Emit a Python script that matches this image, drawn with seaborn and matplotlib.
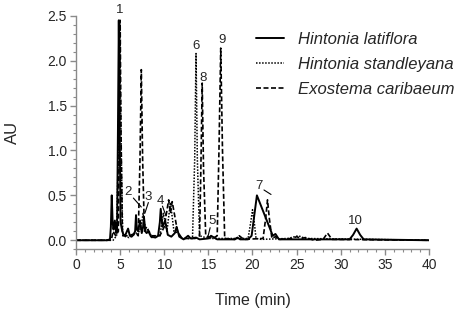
import matplotlib
matplotlib.use("Agg")
import matplotlib.pyplot as plt
import seaborn as sns
import pandas as pd
from matplotlib.ticker import MultipleLocator

# ---- data (time in min, absorbance AU) ----
lat_t = [0, 3.5, 3.85, 3.95, 4.05, 4.15, 4.25, 4.4, 4.55, 4.65, 4.75, 4.85, 4.95, 5.05, 5.2, 5.4,
         5.6, 5.9, 6.1, 6.3, 6.5, 6.7, 6.8, 6.9, 7.05, 7.25, 7.45, 7.6, 7.7, 7.85, 8.0, 8.2, 8.5,
         9.0, 9.3, 9.5, 9.6, 9.8, 10.1, 10.4, 10.8, 11.2, 11.4, 11.7, 12.2, 12.7, 13.0, 13.6,
         14.0, 15.0, 15.3, 16.0, 18.0, 18.3, 18.6, 19.5, 19.9, 20.5, 22.3, 22.6, 23.0, 31.0,
         31.4, 31.8, 32.2, 32.6, 40]
lat_au = [0.0, 0.0, 0.01, 0.15, 0.5, 0.2, 0.12, 0.22, 0.08, 0.1, 1.2, 2.45, 1.2, 0.2, 0.12, 0.05,
          0.06, 0.13, 0.05, 0.04, 0.06, 0.1, 0.28, 0.12, 0.1, 0.22, 0.08, 0.15, 0.26, 0.1, 0.08, 0.1, 0.04,
          0.03, 0.05, 0.2, 0.35, 0.15, 0.22, 0.06, 0.04, 0.08, 0.15, 0.04, 0.01, 0.05, 0.02, 0.03,
          0.01, 0.02, 0.05, 0.01, 0.01, 0.03, 0.01, 0.01, 0.05, 0.5, 0.05, 0.07, 0.01, 0.01,
          0.06, 0.13, 0.06, 0.01, 0.0]

std_t = [0, 4.2, 4.6, 4.75, 4.95, 5.15, 5.3, 6.0, 7.2, 7.45, 7.6, 7.75, 7.9, 8.2, 8.6, 9.5,
         9.9, 10.3, 10.7, 11.1, 11.6, 12.0, 13.2, 13.45, 13.6, 13.75, 14.0, 15.0, 19.5, 19.8,
         20.0, 20.2, 20.4, 21.0, 24.0, 25.2, 26.0, 40]
std_au = [0.0, 0.0, 0.05, 0.8, 2.2, 0.8, 0.05, 0.03, 0.1, 0.2, 0.3, 0.2, 0.1, 0.12, 0.03, 0.05,
          0.3, 0.1, 0.42, 0.1, 0.08, 0.02, 0.02, 0.9, 2.08, 0.9, 0.05, 0.02, 0.02, 0.2,
          0.34, 0.2, 0.02, 0.01, 0.02, 0.05, 0.02, 0.0]

exo_t = [0, 4.0, 4.2, 4.5, 4.8, 4.9, 5.0, 5.1, 5.25, 5.5, 6.0, 6.8, 7.05, 7.25, 7.4, 7.55,
         7.75, 8.0, 8.5, 9.5, 10.0, 10.5, 10.7, 10.9, 11.5, 12.0, 13.5, 14.0, 14.15, 14.3,
         14.45, 14.7, 15.5, 16.0, 16.2, 16.4, 16.6, 16.85, 18.0, 18.5, 19.0, 21.2, 21.5, 21.7,
         21.9, 22.2, 22.6, 23.0, 24.5, 25.0, 25.5, 26.0, 27.0, 28.0, 28.5, 29.0, 40]
exo_au = [0.0, 0.0, 0.1, 0.05, 0.1, 1.2, 2.45, 1.2, 0.1, 0.05, 0.05, 0.08, 0.05, 0.9, 1.9, 0.9,
          0.1, 0.15, 0.05, 0.05, 0.15, 0.45, 0.3, 0.43, 0.1, 0.02, 0.02, 0.05, 0.8, 1.75,
          0.8, 0.05, 0.02, 0.05, 1.0, 2.14, 1.0, 0.02, 0.01, 0.05, 0.01, 0.02, 0.25, 0.45,
          0.25, 0.02, 0.04, 0.01, 0.02, 0.04, 0.02, 0.03, 0.0, 0.01, 0.08, 0.01, 0.0]

series_names = ["Hintonia latiflora", "Hintonia standleyana", "Exostema caribaeum"]

# peak labels: (text, x, y) in data coords
peak_labels = [("1", 4.9, 2.57), ("2", 5.9, 0.54), ("3", 8.2, 0.48), ("4", 9.55, 0.44),
               ("5", 15.4, 0.21), ("6", 13.6, 2.16), ("7", 20.7, 0.6), ("8", 14.4, 1.81),
               ("9", 16.6, 2.23), ("10", 31.7, 0.21)]
# leader lines: (x0, y0, x1, y1)
leaders = [(6.5, 0.47, 7.4, 0.37), (8.2, 0.42, 7.8, 0.3), (9.8, 0.38, 10.2, 0.27),
           (15.2, 0.14, 14.9, 0.02), (21.3, 0.56, 22.1, 0.51)]

df = pd.concat([
    pd.DataFrame({"Time": lat_t, "AU": lat_au, "Species": series_names[0]}),
    pd.DataFrame({"Time": std_t, "AU": std_au, "Species": series_names[1]}),
    pd.DataFrame({"Time": exo_t, "AU": exo_au, "Species": series_names[2]}),
])

sns.set_style("ticks")
plt.rcParams["font.family"] = ["Liberation Sans", "DejaVu Sans"]

fig = plt.figure(figsize=(4.59, 3.10), dpi=100)
ax = fig.add_axes([0.1656, 0.196, 0.769, 0.753])

styles = {series_names[0]: dict(linestyle="-", linewidth=1.4),
          series_names[1]: dict(linestyle=(0, (1, 1)), linewidth=1.1),
          series_names[2]: dict(linestyle=(0, (3, 1.5)), linewidth=1.2)}
for name in series_names:
    sub = df[df["Species"] == name]
    sns.lineplot(data=sub, x="Time", y="AU", ax=ax, color="black", label=name,
                 estimator=None, sort=False, **styles[name])

ax.set_xlim(0, 40)
ax.set_ylim(-0.1, 2.5)
ax.xaxis.set_major_locator(MultipleLocator(5))
ax.xaxis.set_minor_locator(MultipleLocator(1))
ax.yaxis.set_minor_locator(MultipleLocator(0.1))
ax.set_yticks([0.0, 0.5, 1.0, 1.5, 2.0, 2.5])
ax.set_yticklabels(["0.0", "0.5", "1.0", "1.5", "2.0", "2.5"])
for s in ["top", "right"]:
    ax.spines[s].set_visible(False)
for s in ["left", "bottom"]:
    ax.spines[s].set_color("#8a8a8a")
    ax.spines[s].set_linewidth(1.0)
ax.tick_params(which="major", length=4, width=1, color="#8a8a8a", labelsize=10, pad=2.5)
ax.tick_params(which="minor", length=2.5, width=0.8, color="#8a8a8a")
ax.set_xlabel("Time (min)", fontsize=11.5, labelpad=15)
ax.set_ylabel("AU", fontsize=12, labelpad=20)

for txt, x, y in peak_labels:
    ax.text(x, y, txt, ha="center", va="center", fontsize=9.5, clip_on=False)
for x0, y0, x1, y1 in leaders:
    ax.plot([x0, x1], [y0, y1], color="black", linewidth=0.8)

leg = ax.legend(loc="upper right", bbox_to_anchor=(1.105, 0.98), frameon=False,
                prop={"style": "italic", "size": 12}, handlelength=1.65, labelspacing=0.6,
                handletextpad=0.85, borderaxespad=0.3)

fig.savefig("out.png", dpi=100)
